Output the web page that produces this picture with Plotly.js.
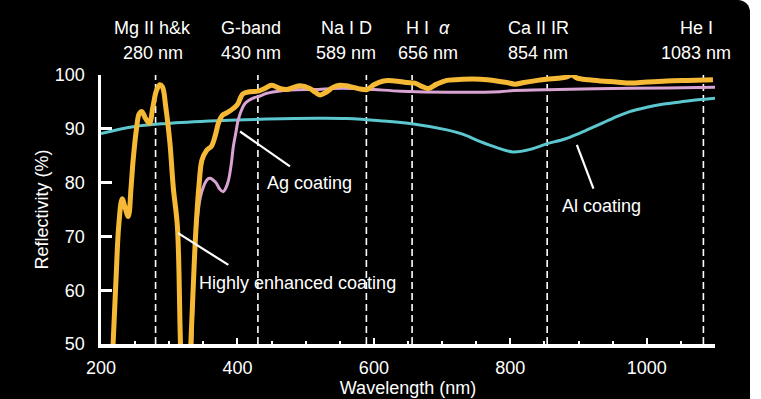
<!DOCTYPE html>
<html>
<head>
<meta charset="utf-8">
<script src="https://cdn.plot.ly/plotly-3.0.1.min.js"></script>
<style>
  html, body { margin: 0; padding: 0; background: #ffffff; }
  #frame { position: absolute; left: 0; top: 0; width: 750px; height: 399px; background: #000; border-top-right-radius: 12px; }
  #chart { position: absolute; left: 0; top: 0; width: 761px; height: 399px; }
</style>
</head>
<body>
<div id="frame"></div>
<div id="chart"></div>
<script>
// ---- Data ----
const enhancedWl = [217,222,226,231,235,240,244,247,252,256,260,265,271,276,281,286,290,295,301,306,312,317,324,
  331,335,339,344,348,355,362,368,372,378,385,394,400,408,418,430,440,450,462,472,482,492,506,514,521,530,540,550,
  560,570,580,590,600,614,630,648,660,670,680,692,707,730,756,780,795,807,820,840,853,870,882,890,898,915,932,955,
  976,1000,1029,1060,1097];
const enhancedR = [48,62,72,77,75.5,73.7,79,84,90,92.8,93.2,92,91,94,97,98.2,97.8,94,87.4,79,71.8,48,30,
  48,60,71,80,84.2,86,86.8,89,91,92.5,93,93.8,94.5,96.5,96.9,97,97.5,98.1,97.5,97.3,97.7,98,97.5,96.8,96.3,96.8,97.7,98.1,
  98,97.7,97.4,97.3,98.2,98.9,98.9,98.6,98.5,97.9,97.5,98.3,99,99.2,99.2,98.9,98.6,98.3,98.6,99,99.2,99.4,99.6,100,99.4,99.1,98.9,98.7,
  98.5,98.7,98.9,99,99.1];

const agWl = [333,337,341,346,351,356,360,365,369,374,379,383,387,391,394,398,401,406,411,417,423,433,443,460,477,500,519,540,570,600,640,710,785,805,870,950,1030,1100];
const agR  = [48,66,73,77.5,79.5,80.6,80.8,80.4,79.9,78.8,78.3,79,80.5,83.5,86.7,89.5,91.6,93.5,94.7,95.3,95.7,96.1,96.6,97,97.2,97.3,97.3,97.5,97.5,97.3,97,96.8,96.9,97.1,97.3,97.5,97.6,97.7];

const alWl = [200,247,296,370,443,516,560,609,658,707,730,756,780,804,830,853,880,902,925,951,975,1000,1025,1049,1075,1100];
const alR  = [89.1,90.4,91,91.5,91.8,91.95,91.9,91.5,90.9,89.8,89,87.6,86.5,85.7,86.2,87.2,88.1,89.2,90.5,92,93.2,94,94.6,95,95.4,95.7];

const lineWl    = [280, 430, 589, 656, 854, 1083];
const lineNames = ["Mg II h&k", "G-band", "Na I D", "H I\u00a0\u00a0<i>α</i>", "Ca II IR", "He I"];
const lineLabels = ["280 nm", "430 nm", "589 nm", "656 nm", "854 nm", "1083 nm"];

const xTickVals = [200, 400, 600, 800, 1000];
const yTickVals = [50, 60, 70, 80, 90, 100];

// ---- Styles ----
const FONT = "Liberation Sans, Arial, Helvetica, sans-serif";
const FS = 18;
const WHITE = "#ffffff";
const labelShift = [-3, -7, -20, 16, -9, -7];

const traces = [
  { x: alWl, y: alR, type: "scatter", mode: "lines", line: { color: "#5cc7cf", width: 3, shape: "spline", smoothing: 1 }, hoverinfo: "skip" },
  { x: agWl, y: agR, type: "scatter", mode: "lines", line: { color: "#d9a3d3", width: 3, shape: "spline", smoothing: 1 }, hoverinfo: "skip" },
  { x: enhancedWl, y: enhancedR, type: "scatter", mode: "lines", line: { color: "#f6b935", width: 5, shape: "spline", smoothing: 1 }, hoverinfo: "skip" }
];

const shapes = [];
const annotations = [];
lineWl.forEach((w, i) => {
  shapes.push({ type: "line", xref: "x", yref: "paper", x0: w, x1: w, y0: 0, y1: 1, layer: "below",
    line: { color: WHITE, width: 1.6, dash: "7px,4px" } });
  annotations.push({ xref: "x", yref: "paper", x: w, y: 1, yanchor: "middle", xanchor: "center", yshift: 47, xshift: labelShift[i],
    text: lineNames[i], showarrow: false, font: { family: FONT, size: FS, color: WHITE } });
  annotations.push({ xref: "x", yref: "paper", x: w, y: 1, yanchor: "middle", xanchor: "center", yshift: 22, xshift: labelShift[i],
    text: lineLabels[i], showarrow: false, font: { family: FONT, size: FS, color: WHITE } });
});

// pointer lines + labels
const pointers = [
  { x0: 403.8, y0: 89.5, x1: 477, y1: 83, tx: 506, ty: 80, text: "Ag coating" },
  { x0: 313, y0: 70.6, x1: 386.7, y1: 64.7, tx: 488.6, ty: 61.3, text: "Highly enhanced coating" },
  { x0: 897.5, y0: 87, x1: 921.8, y1: 78.9, tx: 934, ty: 75.6, text: "Al coating" }
];
pointers.forEach(p => {
  shapes.push({ type: "line", xref: "x", yref: "y", x0: p.x0, y0: p.y0, x1: p.x1, y1: p.y1, line: { color: WHITE, width: 2.2 } });
  annotations.push({ xref: "x", yref: "y", x: p.tx, y: p.ty, text: p.text, showarrow: false, xanchor: "center", yanchor: "middle",
    font: { family: FONT, size: FS, color: WHITE } });
});

const layout = {
  width: 761, height: 399,
  margin: { l: 101, r: 46, t: 75, b: 55 },
  paper_bgcolor: "rgba(0,0,0,0)",
  plot_bgcolor: "rgba(0,0,0,0)",
  showlegend: false,
  font: { family: FONT, size: FS, color: WHITE },
  xaxis: {
    range: [200, 1100], showgrid: false, zeroline: false,
    showline: true, linecolor: WHITE, linewidth: 3.5,
    tickmode: "array", tickvals: xTickVals,
    ticks: "inside", ticklen: 6, tickwidth: 2, tickcolor: WHITE,
    minor: { dtick: 50, tick0: 200, ticks: "inside", ticklen: 3, tickwidth: 2, tickcolor: WHITE, showgrid: false },
    tickfont: { family: FONT, size: FS, color: WHITE }, ticklabelstandoff: 5,
    title: { text: "Wavelength (nm)", font: { family: FONT, size: FS, color: WHITE }, standoff: 1 }
  },
  yaxis: {
    range: [50, 100], showgrid: false, zeroline: false,
    showline: true, linecolor: WHITE, linewidth: 3.5,
    tickmode: "array", tickvals: yTickVals,
    ticks: "inside", ticklen: 11, tickwidth: 3, tickcolor: WHITE,
    tickfont: { family: FONT, size: FS, color: WHITE }, ticklabelstandoff: 9,
    title: { text: "Reflectivity (%)", font: { family: FONT, size: FS, color: WHITE }, standoff: 2 }
  },
  xaxis2: {
    overlaying: "x", side: "top", anchor: "y", matches: "x", range: [200, 1100],
    showgrid: false, zeroline: false, showline: true, linecolor: WHITE, linewidth: 2,
    tickmode: "array", tickvals: xTickVals, showticklabels: false,
    ticks: "inside", ticklen: 6, tickwidth: 2, tickcolor: WHITE,
    minor: { dtick: 50, tick0: 200, ticks: "inside", ticklen: 3, tickwidth: 2, tickcolor: WHITE, showgrid: false }
  },
  yaxis2: {
    overlaying: "y", side: "right", anchor: "x", matches: "y", range: [50, 100],
    showgrid: false, zeroline: false, showline: true, linecolor: WHITE, linewidth: 2,
    tickmode: "array", tickvals: yTickVals, showticklabels: false,
    ticks: "inside", ticklen: 11, tickwidth: 3, tickcolor: WHITE
  },
  shapes: shapes,
  annotations: annotations
};

Plotly.newPlot("chart", traces, layout, { staticPlot: true, displayModeBar: false });
</script>
</body>
</html>
